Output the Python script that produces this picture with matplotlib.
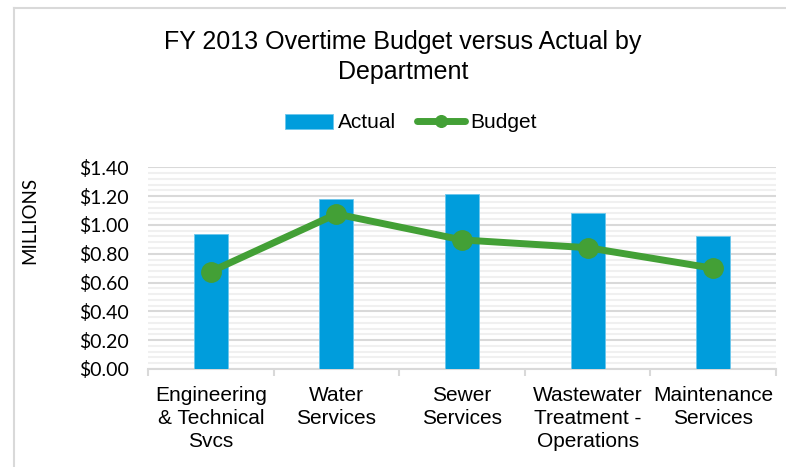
import matplotlib
matplotlib.use("Agg")
import matplotlib.pyplot as plt
from matplotlib.lines import Line2D
from matplotlib.ticker import MultipleLocator, FuncFormatter

categories = ["Engineering\n& Technical\nSvcs", "Water\nServices", "Sewer\nServices",
              "Wastewater\nTreatment -\nOperations", "Maintenance\nServices"]
actual = [0.935, 1.178, 1.213, 1.085, 0.924]
budget = [0.676, 1.076, 0.896, 0.842, 0.699]
yticks = [0.0, 0.2, 0.4, 0.6, 0.8, 1.0, 1.2, 1.4]

W, H = 786, 467
fig = plt.figure(figsize=(W / 100, H / 100), dpi=100)
fig.patch.set_facecolor("white")

left, right, bottom, top = 148, 776, 369, 167.3
ax = fig.add_axes([left / W, 1 - bottom / H, (right - left) / W, (bottom - top) / H])

x = list(range(len(categories)))
blue = "#009ddc"
green = "#43a036"
bars = ax.bar(x, actual, width=0.27, color=blue, edgecolor="#6cc6ec", linewidth=0.6,
              label="Actual", zorder=3)
line, = ax.plot(x, budget, color=green, linewidth=5, marker="o", markersize=14,
                label="Budget", zorder=4, solid_capstyle="round")

ax.set_xlim(-0.5, len(categories) - 0.5)
ax.set_ylim(0, 1.4)
ax.set_yticks(yticks)
ax.yaxis.set_minor_locator(MultipleLocator(0.04))
ax.yaxis.set_major_formatter(FuncFormatter(lambda v, p: f"${v:.2f}"))
ax.grid(which="major", axis="y", color="#d9d9d9", linewidth=1.5, zorder=0)
ax.grid(which="minor", axis="y", color="#f0f0f0", linewidth=1.5, zorder=0)
ax.set_axisbelow(True)

for s in ["top", "right", "left"]:
    ax.spines[s].set_visible(False)
ax.spines["bottom"].set_color("#d9d9d9")
ax.spines["bottom"].set_linewidth(1.5)

ax.set_xticks(x)
ax.set_xticklabels(categories, fontfamily="Liberation Sans", fontsize=15,
                   linespacing=1.28)
ax.tick_params(axis="x", which="major", length=0, pad=12)
ax.set_xticks([i - 0.5 for i in range(len(categories) + 1)], minor=True)
ax.tick_params(axis="x", which="minor", length=5, color="#d9d9d9", width=1.5)
ax.tick_params(axis="y", which="both", length=0, pad=14)
for lbl in ax.get_yticklabels():
    lbl.set_fontfamily("Lato")
    lbl.set_fontsize(14)
    lbl.set_color("#000000")

ax.set_ylabel("MILLIONS", fontfamily="Lato", fontsize=13.5)
ax.yaxis.set_label_coords((38 - left) / (right - left), (bottom - 220) / (bottom - top))

fig.text(403 / W, 1 - 57 / H, "FY 2013 Overtime Budget versus Actual by\nDepartment",
         ha="center", va="center", fontfamily="Liberation Sans", fontsize=18,
         linespacing=1.3)

fig.legend(handles=[bars, line], labels=["Actual", "Budget"],
           loc="center", bbox_to_anchor=(411 / W, 1 - 123 / H), ncol=2,
           frameon=False, prop={"family": "Liberation Sans", "size": 15},
           handlelength=2.3, handletextpad=0.25, columnspacing=1.0,
           markerscale=0.6)

# chart border (left and top visible)
fig.add_artist(Line2D([14 / W, 14 / W], [0, 1 - 8 / H], transform=fig.transFigure,
                      color="#d9d9d9", linewidth=1.5))
fig.add_artist(Line2D([14 / W, 1], [1 - 8 / H, 1 - 8 / H], transform=fig.transFigure,
                      color="#d9d9d9", linewidth=1.5))

fig.savefig("out.png", dpi=100, facecolor="white")
